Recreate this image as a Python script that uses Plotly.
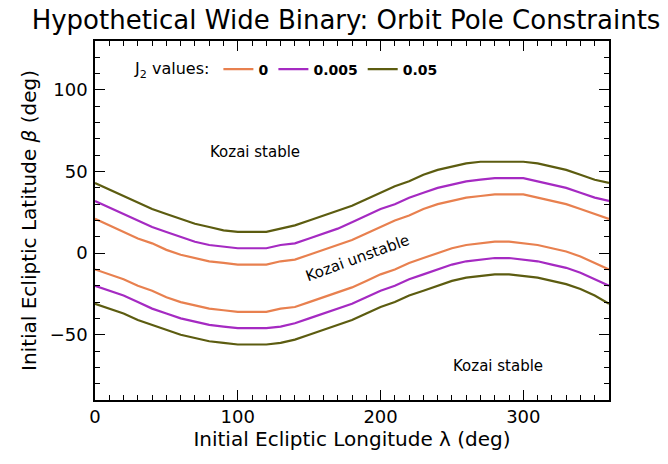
import plotly.graph_objects as go

lon = list(range(0, 361, 10))

orange_upper = [21, 17, 13, 9, 6, 2, -1, -3, -5, -6, -7, -7, -7, -5, -4, -1, 2, 5, 8, 12, 16, 20,
                23, 27, 30, 32, 34, 35, 36, 36, 36, 34, 32, 30, 27, 24, 21]
orange_lower = [-10, -13, -16, -20, -23, -27, -30, -32, -34, -35, -36, -36, -36, -34, -33, -30, -27,
                -24, -21, -17, -13, -10, -6, -3, 0, 3, 5, 6, 7, 7, 6, 5, 3, 1, -2, -6, -10]
purple_upper = [32, 28, 24, 20, 16, 13, 10, 7, 5, 4, 3, 3, 3, 5, 6, 9, 12, 15, 19, 23, 27, 30,
                34, 37, 40, 42, 44, 45, 46, 46, 46, 44, 42, 40, 37, 34, 32]
purple_lower = [-20, -23, -26, -30, -34, -37, -40, -42, -44, -45, -46, -46, -46, -45, -43, -40, -37,
                -34, -31, -27, -23, -20, -16, -13, -10, -7, -5, -4, -3, -3, -4, -5, -7, -9, -12, -16, -20]
olive_upper = [43, 39, 35, 31, 27, 24, 21, 18, 16, 14, 13, 13, 13, 15, 17, 20, 23, 26, 29, 33, 37, 41,
               44, 48, 51, 53, 55, 56, 56, 56, 56, 55, 53, 51, 48, 45, 43]
olive_lower = [-31, -34, -37, -41, -44, -47, -50, -52, -54, -55, -56, -56, -56, -55, -53, -50, -47,
               -44, -41, -37, -33, -30, -26, -23, -20, -17, -15, -14, -13, -13, -14, -15, -17, -19, -22, -26, -31]

j2_labels = ["0", "0.005", "0.05"]
colors = ["#E8804F", "#A52AC2", "#5C5C10"]
series = [(orange_upper, orange_lower), (purple_upper, purple_lower), (olive_upper, olive_lower)]

FONT = "DejaVu Sans"

fig = go.Figure()
for lab, col, (up, lo) in zip(j2_labels, colors, series):
    fig.add_trace(go.Scatter(x=lon, y=up, mode="lines", name="<b>" + lab + "</b>",
                             line=dict(color=col, width=2.2), legendgroup=lab))
    fig.add_trace(go.Scatter(x=lon, y=lo, mode="lines", name=lab, showlegend=False,
                             line=dict(color=col, width=2.2), legendgroup=lab))

fig.add_annotation(x=112, y=62, text="Kozai stable", showarrow=False,
                   font=dict(family=FONT, size=15, color="black"))
fig.add_annotation(x=184, y=-3, text="Kozai unstable", showarrow=False, textangle=-20,
                   font=dict(family=FONT, size=15, color="black"))
fig.add_annotation(x=282, y=-69, text="Kozai stable", showarrow=False,
                   font=dict(family=FONT, size=15, color="black"))

axis_common = dict(showline=True, linecolor="black", linewidth=1.5, mirror="allticks",
                   ticks="inside", ticklen=10, tickwidth=1.2, tickcolor="black",
                   showgrid=False, zeroline=False,
                   tickfont=dict(family=FONT, size=18, color="black"))

fig.update_xaxes(range=[0, 360], dtick=100, tick0=0,
                 minor=dict(ticks="inside", ticklen=5, dtick=10, tickcolor="black", tickwidth=1),
                 title=dict(text="Initial Ecliptic Longitude λ (deg)", standoff=4,
                            font=dict(family=FONT, size=20, color="black")),
                 **axis_common)
fig.update_yaxes(range=[-90, 130], dtick=50, tick0=0,
                 minor=dict(ticks="inside", ticklen=5, dtick=10, tickcolor="black", tickwidth=1),
                 ticklabelstandoff=2,
                 title=dict(text="Initial Ecliptic Latitude <i>β</i> (deg)", standoff=8,
                            font=dict(family=FONT, size=20, color="black")),
                 **axis_common)

fig.update_layout(
    width=668, height=464,
    margin=dict(l=95, r=59, t=41, b=64),
    paper_bgcolor="white", plot_bgcolor="white",
    title=dict(text="Hypothetical Wide Binary: Orbit Pole Constraints", x=0.518, xanchor="center",
               y=0.957, yanchor="middle", font=dict(family=FONT, size=26, color="black")),
    legend=dict(orientation="h", x=0.074, y=0.965, xanchor="left", yanchor="top",
                title=dict(text="J<sub>2</sub> values:", font=dict(family=FONT, size=16, color="black")),
                font=dict(family=FONT, size=14, color="black"), bgcolor="rgba(0,0,0,0)",
                itemwidth=30, tracegroupgap=0),
    showlegend=True,
)

fig.write_html("out.html", config={"displayModeBar": False},
               post_script="document.body.style.margin='0px';")
